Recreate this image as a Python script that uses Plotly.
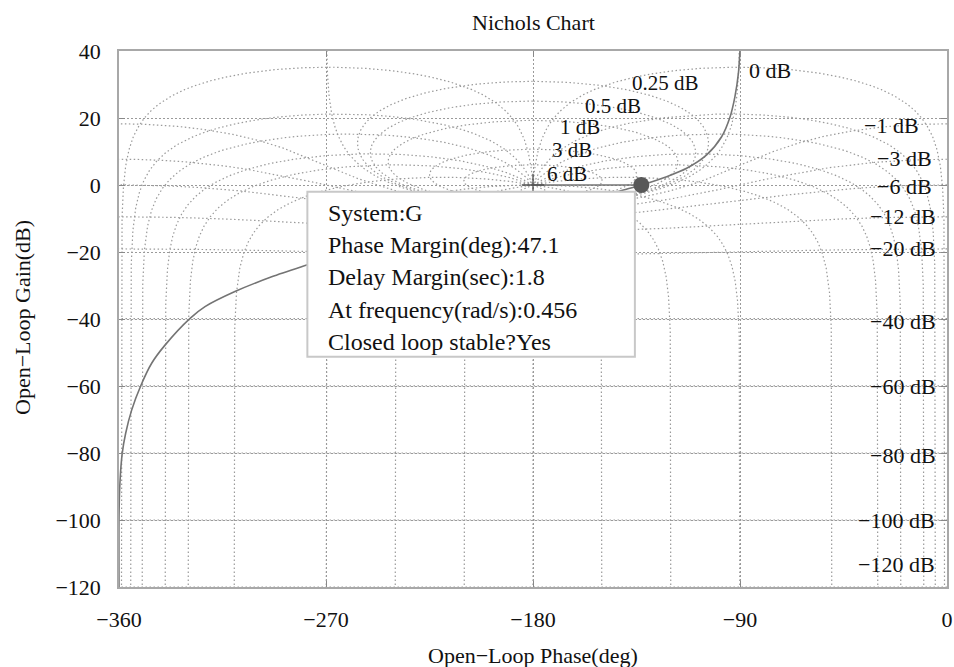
import numpy as np
import plotly.graph_objects as go

# ---------------- data ----------------
# open-loop response of G (phase in deg, gain in dB)
ol_phase = [-360.0, -360.0, -359.6, -358.6, -357.1, -354.5, -350.4, -345.8, -340.0,
            -329.1, -322.6, -309.6, -293.6, -278.4, -268.0, -255.0, -240.0, -225.0,
            -210.0, -195.0, -180.0, -170.0, -160.0, -150.0, -140.7, -132.9, -121.9,
            -113.2, -104.5, -98.0, -94.3, -92.2, -90.7, -90.0]
ol_gain = [-120.0, -99.0, -89.0, -80.1, -74.1, -67.2, -59.7, -53.2, -47.8,
           -39.8, -36.3, -31.8, -27.4, -23.9, -21.6, -19.2, -16.7, -14.5,
           -12.4, -10.3, -8.1, -6.6, -5.0, -3.3, -1.5, 0.0, 2.5,
           5.0, 9.0, 14.4, 20.4, 26.4, 33.3, 40.3]

# Nichols grid levels
cl_gain_levels_db = [6, 3, 1, 0.5, 0.25, 0, -1, -3, -6, -12, -20, -40, -60, -80, -100, -120]
cl_phase_levels_deg = [-1, -5, -10, -20, -30, -50, -90, -120, -150, -180,
                       -210, -240, -270, -310, -330, -340, -350, -355, -359]

# contour labels
label_text = ["0 dB", "0.25 dB", "0.5 dB", "1 dB", "3 dB", "6 dB",
              "\u22121 dB", "\u22123 dB", "\u22126 dB", "\u221212 dB", "\u221220 dB",
              "\u221240 dB", "\u221260 dB", "\u221280 dB", "\u2212100 dB", "\u2212120 dB"]
label_phase = [-77.0, -122.6, -145.1, -159.6, -163.2, -165.3,
               -24.0, -18.3, -18.3, -19.0, -19.0, -19.0, -19.0, -19.0, -21.9, -21.9]
label_gain = [34.3, 30.5, 23.6, 17.2, 10.4, 3.4,
              17.9, 8.0, -0.5, -9.5, -18.9, -40.8, -60.2, -80.6, -100.0, -113.4]

# margin data
phase_margin = 47.1
delay_margin = 1.8
pm_frequency = 0.456
crit_phase = -180.0
crit_gain = 0.0

x_ticks = [-360, -270, -180, -90, 0]
y_ticks = [40, 20, 0, -20, -40, -60, -80, -100, -120]

box_lines = ["System:G",
             "Phase Margin(deg):%.1f" % phase_margin,
             "Delay Margin(sec):%.1f" % delay_margin,
             "At frequency(rad/s):%.3f" % pm_frequency,
             "Closed loop stable?Yes"]

# ---------------- Nichols grid geometry ----------------
def shift_to(a, ref):
    k = np.round((ref - a[0]) / 360.0)
    return a + 360.0 * k


def gain_contour(mdb):
    M = 10 ** (mdb / 20.0)
    eps = 1e-4
    phi = -np.linspace(eps, 2 * np.pi - eps, 6000)
    T = M * np.exp(1j * phi)
    G = T / (1 - T)
    ph = np.degrees(np.unwrap(np.angle(G)))
    ref = -180.0 if M > 1 else (0.0 if M < 1 else -90.0)
    ph = shift_to(ph, ref)
    return ph, 20 * np.log10(np.abs(G))


def phase_contour(pdeg):
    r = np.unique(np.concatenate([np.logspace(-8, 8, 3000), np.linspace(0.85, 1.15, 3000)]))
    T = r * np.exp(1j * np.radians(pdeg))
    G = T / (1 - T)
    ph = np.degrees(np.unwrap(np.angle(G)))
    ph = shift_to(ph, pdeg)
    return ph, 20 * np.log10(np.abs(G))


gx, gy = [], []
for m in cl_gain_levels_db:
    a, b = gain_contour(m)
    gx += list(a) + [None]
    gy += list(b) + [None]
for p in cl_phase_levels_deg:
    a, b = phase_contour(p)
    gx += list(a) + [None]
    gy += list(b) + [None]

GRID = "#9a9a9a"
DOT = "1.5px,2.5px"
FONT = "Liberation Serif"

fig = go.Figure()
fig.add_trace(go.Scatter(x=gx, y=gy, mode="lines",
                         line=dict(color=GRID, width=1.2, dash=DOT),
                         hoverinfo="skip", showlegend=False))

# open-loop curve
fig.add_trace(go.Scatter(x=ol_phase, y=ol_gain, mode="lines",
                         line=dict(color="#747474", width=1.6, shape="spline", smoothing=0.8),
                         showlegend=False))

# phase-margin marker line
pm_phase = crit_phase + phase_margin
fig.add_trace(go.Scatter(x=[crit_phase, pm_phase], y=[crit_gain, crit_gain], mode="lines",
                         line=dict(color="#747474", width=1.6), showlegend=False))
fig.add_trace(go.Scatter(x=[crit_phase], y=[crit_gain], mode="markers",
                         marker=dict(symbol="cross-thin", size=16,
                                     line=dict(color="#505050", width=1.3)),
                         showlegend=False))
fig.add_trace(go.Scatter(x=[pm_phase], y=[crit_gain], mode="markers",
                         marker=dict(symbol="circle", size=16, color="#585858"),
                         showlegend=False))

# contour labels
for i, (t, x, y) in enumerate(zip(label_text, label_phase, label_gain)):
    size = 21 if 1 <= i <= 5 else 22
    fig.add_annotation(x=x, y=y, text=t, showarrow=False,
                       font=dict(family=FONT, size=size, color="#111"),
                       xanchor="center", yanchor="middle")

# data-tip box
fig.add_shape(type="rect", xref="x", yref="y", x0=-278.1, x1=-135.7, y0=-51.3, y1=-2.0,
              fillcolor="white", line=dict(color="#c8c8c8", width=2), layer="above")
line_y = [-8.4, -17.9, -27.6, -37.3, -46.8]
for t, y in zip(box_lines, line_y):
    fig.add_annotation(x=-269.9, y=y, text=t, showarrow=False,
                       font=dict(family=FONT, size=24, color="#111"),
                       xanchor="left", yanchor="middle")

# titles
fig.add_annotation(xref="paper", yref="paper", x=0.5, y=(587 - 23) / 536.0,
                   text="Nichols Chart", showarrow=False,
                   font=dict(family=FONT, size=22, color="#111"), yanchor="middle")
fig.add_annotation(xref="paper", yref="paper", x=0.5, y=(587 - 655) / 536.0,
                   text="Open\u2212Loop Phase(deg)", showarrow=False,
                   font=dict(family=FONT, size=22, color="#111"), yanchor="middle")
fig.add_annotation(xref="paper", yref="paper", x=(22 - 119) / 828.0, y=(587 - 318) / 536.0,
                   text="Open\u2212Loop Gain(dB)", showarrow=False, textangle=-90,
                   font=dict(family=FONT, size=22, color="#111"),
                   xanchor="center", yanchor="middle")

axis_common = dict(showline=True, linecolor="#a8a8a8", linewidth=1.5, mirror="ticks",
                   ticks="inside", ticklen=6, tickcolor="#888", tickwidth=1,
                   showgrid=True, gridcolor=GRID, griddash=DOT, gridwidth=1.2,
                   zeroline=False, automargin=False,
                   tickfont=dict(family=FONT, size=22, color="#111"))

fig.update_layout(
    width=954, height=667,
    margin=dict(l=119, r=7, t=51, b=80),
    paper_bgcolor="white", plot_bgcolor="white",
    xaxis=dict(range=[-360, 0], tickvals=x_ticks, ticklabelstandoff=12, **axis_common),
    yaxis=dict(range=[-120, 40], tickvals=y_ticks, ticklabelstandoff=12, **axis_common),
    showlegend=False,
)

fig.write_html("out.html")
